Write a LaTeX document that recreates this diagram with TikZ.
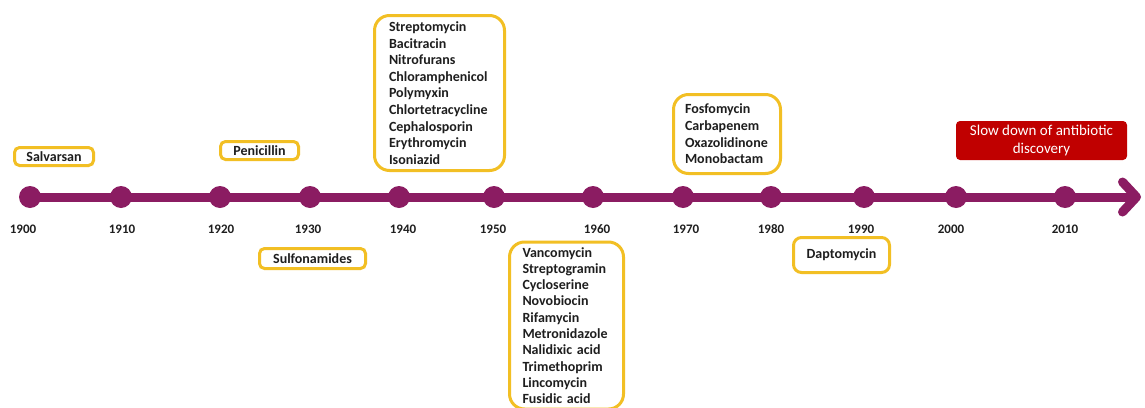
\documentclass[tikz,border=0pt]{standalone}
\usepackage{fontspec}
\setmainfont{Carlito}
\usepackage{tikz}
\usetikzlibrary{arrows.meta,positioning}
\definecolor{Plum}{HTML}{8B1C62}
\definecolor{Gold}{HTML}{F2BF24}
\definecolor{Crimson}{HTML}{C00000}
\definecolor{Ink}{HTML}{1E1E1E}
\tikzset{
 drug/.style={draw=Gold,line width=3pt,rounded corners=5pt,fill=white,text=Ink,
   font=\fontsize{14}{16.6}\selectfont\bfseries,align=left,inner sep=2pt},
 era/.style={drug,rounded corners=15pt},
 halt/.style={fill=Crimson,rounded corners=4pt,text=white,align=center,
   font=\fontsize{15}{18}\selectfont,minimum width=171pt,minimum height=39pt},
 dot/.style={circle,fill=Plum,minimum size=22pt,inner sep=0pt},
 yr/.style={font=\fontsize{13}{15}\selectfont\bfseries,text=Ink},
 axis/.style={draw=Plum,line width=9pt,-{Straight Barb[length=14pt,width=30pt,round]}}
}
\begin{document}
\begin{tikzpicture}[x=1pt,y=-1pt]
\path[use as bounding box,fill=white] (0,0) rectangle (1145,407);
\clip (0,0) rectangle (1145,407);
\foreach \x/\lx/\yr in {30/23/1900,121/122/1910,220/221/1920,310/308/1930,399/403/1940,494/493/1950,593/597/1960,683/686/1970,771/771/1980,864/861/1990,956/951/2000,1065/1065/2010}
  \node[yr] (y\yr) at (\lx,229) {\yr};
\coordinate (tip) at (1141,197);
\draw[axis] (30,197) coordinate (start) -- (tip);
\foreach \x/\yr in {30/1900,121/1910,220/1920,310/1930,399/1940,494/1950,593/1960,683/1970,771/1980,864/1990,956/2000,1065/2010}
  \node[dot] (d\yr) at (\x,197) {};
\node[drug,minimum width=79pt,minimum height=18pt] (salvarsan) at (54,156.5) {Salvarsan};
\node[drug,minimum width=78pt,minimum height=18pt] (penicillin) at (259.5,150.5) {Penicillin};
\node[drug,minimum width=106pt,minimum height=20pt] (sulfa) at (312.5,258.5) {Sulfonamides};
\node[era,text width=101pt,inner xsep=14.5pt,minimum height=155pt] (golden) at (439.5,93) {Streptomycin\\Bacitracin\\Nitrofurans\\Chloramphenicol\\Polymyxin\\Chlortetracycline\\Cephalosporin\\Erythromycin\\Isoniazid};
\node[era,text width=88pt,inner xsep=13pt,minimum height=167pt,font=\fontsize{14}{16.3}\selectfont\bfseries] (sixties) at (566.5,325.5) {Vancomycin\\Streptogramin\\Cycloserine\\Novobiocin\\Rifamycin\\Metronidazole\\Nalidixic acid\\Trimethoprim\\Lincomycin\\Fusidic acid};
\node[era,text width=84pt,inner xsep=11.5pt,minimum height=79pt] (seventies) at (727,134) {Fosfomycin\\Carbapenem\\Oxazolidinone\\Monobactam};
\node[drug,rounded corners=8pt,minimum width=96pt,minimum height=35pt] (dapto) at (841.5,255) {Daptomycin};
\node[halt] (slow) at (1041.5,140.5) {Slow down of antibiotic\\discovery};
\end{tikzpicture}
\end{document}
